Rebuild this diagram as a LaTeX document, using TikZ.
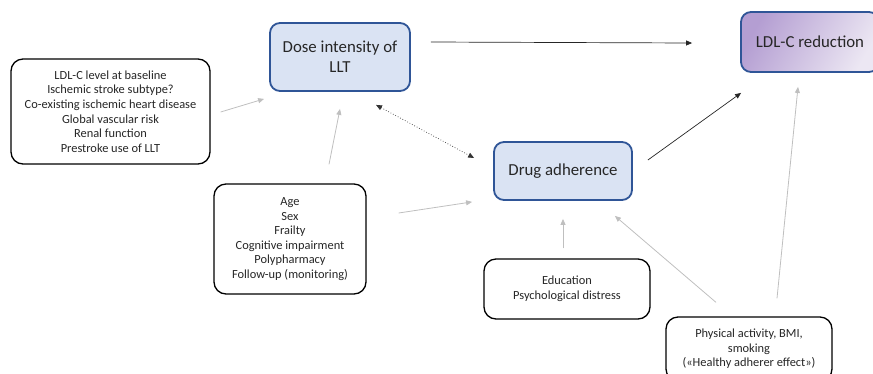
\documentclass[tikz,border=0pt]{standalone}
\usepackage{fontspec}
\setmainfont{Carlito}
\usepackage{tikz}
\usetikzlibrary{arrows.meta,calc}

\definecolor{boxblue}{HTML}{2F5597}
\definecolor{fillblue}{HTML}{DAE3F3}
\definecolor{ldlA}{HTML}{B49ED2}
\definecolor{ldlB}{HTML}{ECE7F3}
\definecolor{txt}{HTML}{262626}
\definecolor{arrgray}{HTML}{BFBFBF}

\begin{document}
\begin{tikzpicture}[x=1pt, y=-1pt,
  trt/.style={draw=boxblue, line width=1.8pt, rounded corners=10pt, fill=fillblue,
              align=center, text=txt, font=\fontsize{16.8}{20}\selectfont, inner sep=0pt},
  res/.style={trt, left color=ldlA, right color=ldlB, shading angle=60},
  fac/.style={draw=black, line width=1.3pt, rounded corners=12pt, fill=white,
              align=center, text=txt, font=\fontsize{12.4}{14.6}\selectfont, inner sep=0pt},
  darr/.style={-{Triangle[length=6pt,width=5pt]}, line width=0.7pt, black!85},
  garr/.style={-{Triangle[length=6pt,width=5pt]}, line width=0.8pt, arrgray},
  dotarr/.style={{Triangle[length=6pt,width=5pt]}-{Triangle[length=6pt,width=5pt]},
                 line width=0.7pt, black!80, dotted}
]
\useasboundingbox (0,0) rectangle (873,373);

% treatment and outcome
\node[trt, minimum width=140pt, minimum height=68pt] (dose) at (340,57) {Dose intensity of\\LLT};
\node[res, minimum width=138pt, minimum height=60pt] (ldl) at (810,42) {LDL-C reduction};
\node[trt, minimum width=138pt, minimum height=58pt] (drug) at (563,171) {Drug adherence};

% factors
\node[fac, minimum width=199pt, minimum height=105pt] (base) at (110.5,111.5)
  {LDL-C level at baseline\\Ischemic stroke subtype?\\Co-existing ischemic heart disease\\Global vascular risk\\Renal function\\Prestroke use of LLT};
\node[fac, minimum width=152pt, minimum height=110pt] (age) at (290,239)
  {Age\\Sex\\Frailty\\Cognitive impairment\\Polypharmacy\\Follow-up (monitoring)};
\node[fac, minimum width=166pt, minimum height=60pt] (edu) at (567,289)
  {Education\\Psychological distress};
\node[fac, minimum width=166pt, minimum height=64pt] (phys) at (749,349)
  {Physical activity, BMI,\\smoking\\(«Healthy adherer effect»)};

% main paths
\draw[darr] ($(dose.east)+(20,-15)$) -- ($(ldl.west)+(-48,1)$);
\draw[darr] ($(drug.east)+(15,-11)$) -- ($(ldl.south west)+(1,20)$);
\draw[dotarr] ($(dose.south)+(36,13)$) -- ($(drug.west)+(-19,-13)$);

% factor arrows
\draw[garr] ($(base.east)+(10,0.5)$) -- ($(dose.south west)+(-5,7)$);
\draw[garr] ($(age.north)+(39,-19)$) -- ($(dose.south)+(0,17)$);
\draw[garr] ($(age.east)+(32,-26)$) -- ($(drug.south west)+(-21,1)$);
\draw[garr] ($(edu.north)+(-4,-10)$) -- ($(drug.south)+(0,18)$);
\draw[garr] ($(phys.north)+(-33,-14)$) -- ($(drug.south east)+(-18,15)$);
\draw[garr] ($(phys.north)+(28,-18)$) -- ($(ldl.south)+(-12,14)$);
\end{tikzpicture}
\end{document}
